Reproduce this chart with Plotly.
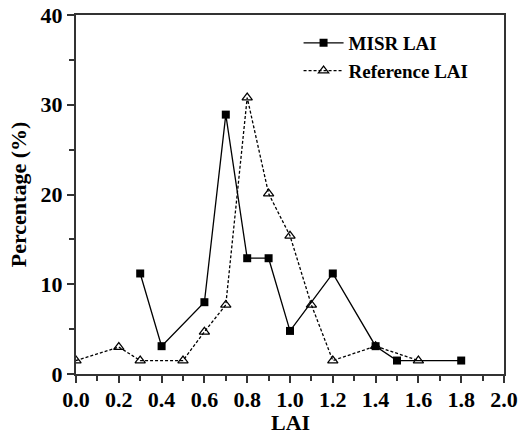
import plotly.graph_objects as go

misr_x = [0.3, 0.4, 0.6, 0.7, 0.8, 0.9, 1.0, 1.2, 1.4, 1.5, 1.8]
misr_y = [11.2, 3.1, 8.0, 28.9, 12.9, 12.9, 4.8, 11.2, 3.1, 1.5, 1.5]
ref_x = [0.0, 0.2, 0.3, 0.5, 0.6, 0.7, 0.8, 0.9, 1.0, 1.1, 1.2, 1.4, 1.6]
ref_y = [1.5, 3.0, 1.5, 1.5, 4.7, 7.7, 30.8, 20.1, 15.4, 7.7, 1.5, 3.1, 1.5]

FONT = "Liberation Serif"

fig = go.Figure()
fig.add_trace(go.Scatter(
    x=misr_x, y=misr_y, mode="lines+markers", name="<b>MISR LAI</b>",
    line=dict(color="black", width=1.3),
    marker=dict(symbol="square", size=8, color="black"),
))
fig.add_trace(go.Scatter(
    x=ref_x, y=ref_y, mode="lines+markers", name="<b>Reference LAI</b>",
    line=dict(color="black", width=1.3, dash="3px,2px"),
    marker=dict(symbol="triangle-up-open", size=9, color="black", line=dict(width=1.2)),
))

axis_common = dict(
    showline=True, linecolor="#333", linewidth=2, mirror=True,
    ticks="outside", ticklen=7, tickwidth=1.5, tickcolor="#333",
    showgrid=False, zeroline=False, automargin=False,
    tickfont=dict(family=FONT, size=22, color="black", weight="bold"),
)

fig.update_xaxes(
    range=[0, 2], dtick=0.2, tick0=0, tickformat=".1f", ticklabelstandoff=-2,
    minor=dict(dtick=0.1, ticks="outside", ticklen=5, tickwidth=1.5, tickcolor="#333"),
    **axis_common,
)
fig.update_yaxes(
    range=[0, 40], dtick=10, tick0=0,
    minor=dict(dtick=5, ticks="outside", ticklen=5, tickwidth=1.5, tickcolor="#333"),
    title=dict(text="<b>Percentage (%)</b>", font=dict(family=FONT, size=22, color="black"), standoff=8),
    **axis_common,
)

fig.add_annotation(
    text="<b>LAI</b>", xref="paper", yref="paper", x=0.5, y=-0.135,
    xanchor="center", yanchor="middle", showarrow=False,
    font=dict(family=FONT, size=22, color="black"),
)

fig.update_layout(
    width=518, height=438,
    margin=dict(l=76, r=14, t=15, b=64),
    paper_bgcolor="white", plot_bgcolor="white",
    showlegend=True,
    legend=dict(
        x=0.52, y=0.975, xanchor="left", yanchor="top",
        bgcolor="rgba(0,0,0,0)",
        font=dict(family=FONT, size=19, color="black"),
        itemwidth=40, tracegroupgap=0,
    ),
)

fig.write_html("out.html")
